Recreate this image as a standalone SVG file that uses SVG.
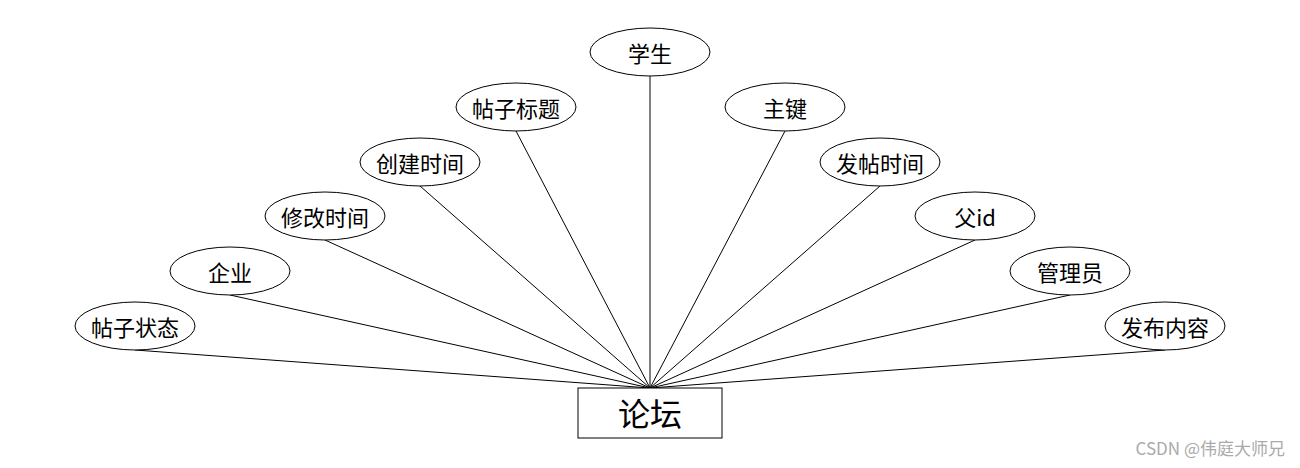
<svg xmlns="http://www.w3.org/2000/svg" width="1300" height="468" viewBox="0 0 1300 468">
<style>
.n ellipse{fill:#fff;stroke:#000;stroke-width:1}
.t{font-family:"Noto Sans CJK SC","Liberation Sans",sans-serif;font-size:22px;text-anchor:middle;dominant-baseline:central;fill:#000}
.c line{stroke:#000;stroke-width:1}
</style>
<rect width="1300" height="468" fill="#fff"/>
<g class="c">
<line x1="650" y1="76" x2="650" y2="388"/>
<line x1="516" y1="131" x2="650" y2="388"/>
<line x1="785" y1="131" x2="650" y2="388"/>
<line x1="420" y1="186" x2="650" y2="388"/>
<line x1="880" y1="186" x2="650" y2="388"/>
<line x1="325" y1="240" x2="650" y2="388"/>
<line x1="975" y1="240" x2="650" y2="388"/>
<line x1="230" y1="295" x2="650" y2="388"/>
<line x1="1070" y1="295" x2="650" y2="388"/>
<line x1="135" y1="350" x2="650" y2="388"/>
<line x1="1165" y1="350" x2="650" y2="388"/>
</g>
<g id="e-xuesheng" class="n"><ellipse cx="650" cy="52" rx="60" ry="24"/><text class="t" x="650" y="52">学生</text></g>
<g id="e-biaoti" class="n"><ellipse cx="516" cy="107" rx="60" ry="24"/><text class="t" x="516" y="107">帖子标题</text></g>
<g id="e-zhujian" class="n"><ellipse cx="785" cy="107" rx="60" ry="24"/><text class="t" x="785" y="107">主键</text></g>
<g id="e-chuangjian" class="n"><ellipse cx="420" cy="162" rx="60" ry="24"/><text class="t" x="420" y="162">创建时间</text></g>
<g id="e-fatie" class="n"><ellipse cx="880" cy="162" rx="60" ry="24"/><text class="t" x="880" y="162">发帖时间</text></g>
<g id="e-xiugai" class="n"><ellipse cx="325" cy="216" rx="60" ry="24"/><text class="t" x="325" y="216">修改时间</text></g>
<g id="e-fuid" class="n"><ellipse cx="975" cy="216" rx="60" ry="24"/><text class="t" x="975" y="216">父id</text></g>
<g id="e-qiye" class="n"><ellipse cx="230" cy="271" rx="60" ry="24"/><text class="t" x="230" y="271">企业</text></g>
<g id="e-guanli" class="n"><ellipse cx="1070" cy="271" rx="60" ry="24"/><text class="t" x="1070" y="271">管理员</text></g>
<g id="e-zhuangtai" class="n"><ellipse cx="135" cy="326" rx="60" ry="24"/><text class="t" x="135" y="326">帖子状态</text></g>
<g id="e-neirong" class="n"><ellipse cx="1165" cy="326" rx="60" ry="24"/><text class="t" x="1165" y="326">发布内容</text></g>
<g id="forum"><rect x="578" y="388" width="144" height="50" fill="#fff" stroke="#000"/><text class="t" x="650" y="412" style="font-size:32px">论坛</text></g>
<text x="1285" y="455" style="font-family:'Noto Sans CJK SC','Liberation Sans',sans-serif;font-size:17px;fill:#aaa;text-anchor:end">CSDN @伟庭大师兄</text>
</svg>
